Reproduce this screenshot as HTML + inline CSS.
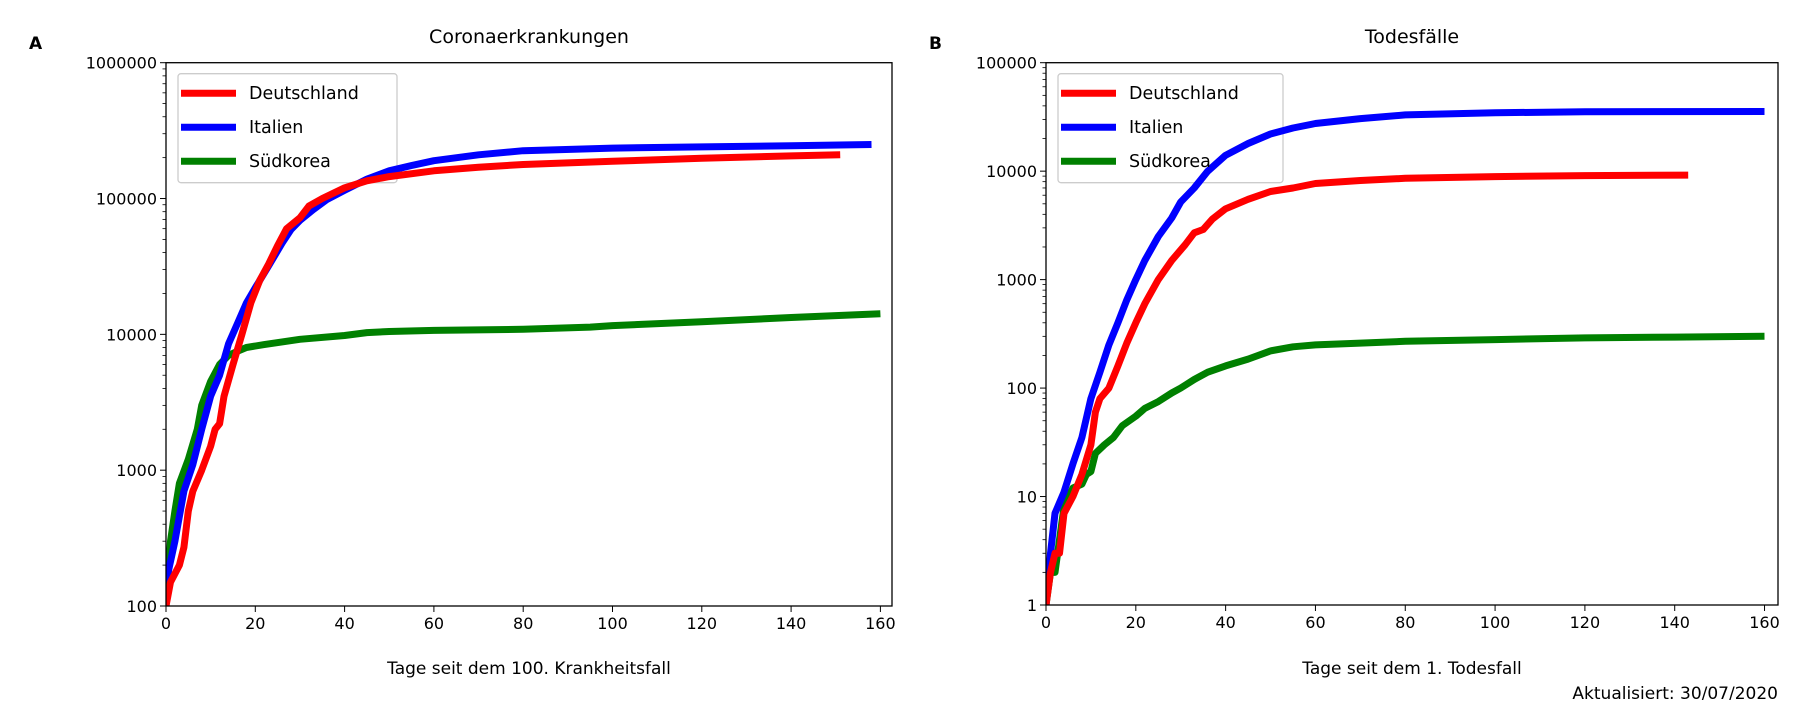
<!DOCTYPE html>
<html><head><meta charset="utf-8"><style>
body{margin:0;background:#fff;}
svg text{font-family:"DejaVu Sans","Liberation Sans",sans-serif;fill:#000;}
</style></head><body>
<svg id="fig" width="1800" height="700" viewBox="0 0 1800 700" xmlns="http://www.w3.org/2000/svg"></svg>
<script>
const casesDays = {
 de:[0,1,3,4,5,6,8,10,11,12,13,15,17,19,21,23,25,27,30,32,35,40,45,50,60,70,80,100,120,140,151],
 it:[0,2,4,6,8,10,12,14,16,18,20,23,26,28,30,33,36,40,45,50,55,60,70,80,100,120,140,158],
 kr:[0,1,2,3,5,7,8,10,12,14,16,18,22,26,30,40,45,50,60,80,95,100,120,140,160]
};
const casesDe=[100,150,200,270,500,700,1000,1500,2000,2200,3500,6000,10000,17000,25000,33000,45000,60000,72000,88000,100000,120000,135000,145000,160000,170000,178000,188000,198000,206000,210000];
const casesIt=[150,300,700,1100,2000,3500,5000,8500,12000,17000,22000,32000,47000,59000,69000,83000,98000,115000,139000,160000,175000,190000,210000,225000,235000,240000,245000,250000];
const casesKr=[100,300,500,800,1200,2000,3000,4500,6000,7000,7500,8000,8400,8800,9200,9800,10300,10500,10700,10900,11300,11600,12400,13300,14200];
const deathDays = {
 de:[0,1,2,3,4,6,8,10,11,12,14,16,18,20,22,25,28,31,33,35,37,40,45,50,55,60,70,80,100,120,143],
 it:[0,1,2,4,6,8,10,12,14,16,18,20,22,25,28,30,33,36,40,45,50,55,60,70,80,100,120,160],
 kr:[0,1,2,4,6,8,9,10,11,13,15,17,20,22,25,28,30,33,36,40,45,50,55,60,70,80,100,120,140,160]
};
const deathDe=[1,2,3,3,7,10,16,30,60,80,100,160,260,400,600,1000,1500,2100,2700,2900,3600,4500,5500,6500,7000,7700,8200,8600,8900,9100,9200];
const deathIt=[1,3,7,11,20,35,80,140,250,400,650,1000,1500,2500,3700,5200,7000,10000,14000,18000,22000,25000,27500,30500,33000,34500,35300,35500];
const deathKr=[1,2,2,8,12,13,16,17,25,30,35,45,55,65,75,90,100,120,140,160,185,220,240,250,260,270,280,290,295,300];
const xTicks=[0,20,40,60,80,100,120,140,160];
const yTicksA=[100,1000,10000,100000,1000000];
const yTicksB=[1,10,100,1000,10000,100000];
const seriesNames=["Deutschland","Italien","Südkorea"];
const colors={de:"#ff0000",it:"#0000ff",kr:"#008000"};

const NS="http://www.w3.org/2000/svg";
const svg=document.getElementById('fig');
function mk(tag,attrs,parent){const e=document.createElementNS(NS,tag);for(const k in attrs)e.setAttribute(k,attrs[k]);(parent||svg).appendChild(e);return e;}

function panel(id,L,R,T,B,xmax,ymin,ymax,yTicks,title,letter,lx,xlabel,legW,data){
  const g=mk('g',{});
  
  
  const xs=v=>L+(v/xmax)*(R-L);
  const lmin=Math.log10(ymin),lmax=Math.log10(ymax);
  const ys=v=>B-(Math.log10(v)-lmin)/(lmax-lmin)*(B-T);
  const cp=mk('clipPath',{id:'clip'+id},g);
  mk('rect',{x:L,y:T,width:R-L,height:B-T},cp);
  const lgd=mk('g',{},g);
  
  
  mk('rect',{x:L+12,y:T+11,width:legW,height:109,rx:3,fill:'#fff',stroke:'#ccc','stroke-width':1.3},lgd);
  const lg=mk('g',{'clip-path':'url(#clip'+id+')'},g);
  ['kr','it','de'].forEach(k=>{
    const d=data[k];
    const pts=d.days.map((x,i)=>xs(x).toFixed(1)+','+ys(d.vals[i]).toFixed(1)).join(' ');
    const p=mk('polyline',{points:pts,fill:'none',stroke:colors[k],'stroke-width':7,'stroke-linejoin':'round'},lg);
    
    
  });
  ['de','it','kr'].forEach((k,i)=>{
    const y=T+30.5+i*34;
    const en=mk('g',{},g);
    
    
    mk('line',{x1:L+15,x2:L+70,y1:y,y2:y,stroke:colors[k],'stroke-width':7},en);
    const t=mk('text',{x:L+83,y:y+6,'font-size':17.5},en);t.textContent=seriesNames[i];
  });
  const fr=mk('rect',{x:L,y:T,width:R-L,height:B-T,fill:'none',stroke:'#000','stroke-width':1.3},g);
  
  
  xTicks.forEach(t=>{
    const x=xs(t);
    mk('line',{x1:x,x2:x,y1:B,y2:B+6,stroke:'#000','stroke-width':1},g);
    const tx=mk('text',{x:x,y:B+23,'text-anchor':'middle','font-size':16},g);tx.textContent=t;
    
    
  });
  for(let e=Math.round(lmin);e<Math.round(lmax);e++){
    for(let m=2;m<10;m++){const y=ys(m*Math.pow(10,e));mk('line',{x1:L-3.5,x2:L,y1:y,y2:y,stroke:'#000','stroke-width':0.8},g);}
  }
  yTicks.forEach(t=>{
    const y=ys(t);
    mk('line',{x1:L-6,x2:L,y1:y,y2:y,stroke:'#000','stroke-width':1},g);
    const tx=mk('text',{x:L-9,y:y+6,'text-anchor':'end','font-size':16},g);tx.textContent=t;
    
    
  });
  const ti=mk('text',{x:(L+R)/2,y:43,'text-anchor':'middle','font-size':19},g);ti.textContent=title;
  
  
  const le=mk('text',{x:lx,y:49,'font-size':17,'font-weight':'bold'},g);le.textContent=letter;
  
  
  const xl=mk('text',{x:(L+R)/2,y:674,'text-anchor':'middle','font-size':17},g);xl.textContent=xlabel;
  
  
}
panel('a',166,892,62.7,606,162.6,100,1e6,yTicksA,'Coronaerkrankungen','A',29,'Tage seit dem 100. Krankheitsfall',219,
 {de:{days:casesDays.de,vals:casesDe},it:{days:casesDays.it,vals:casesIt},kr:{days:casesDays.kr,vals:casesKr}});
panel('b',1046,1778,62.7,605,163,1,1e5,yTicksB,'Todesfälle','B',929,'Tage seit dem 1. Todesfall',225,
 {de:{days:deathDays.de,vals:deathDe},it:{days:deathDays.it,vals:deathIt},kr:{days:deathDays.kr,vals:deathKr}});
const up=mk('text',{x:1778,y:699,'text-anchor':'end','font-size':17});
up.textContent='Aktualisiert: 30/07/2020';


</script>
</body></html>
